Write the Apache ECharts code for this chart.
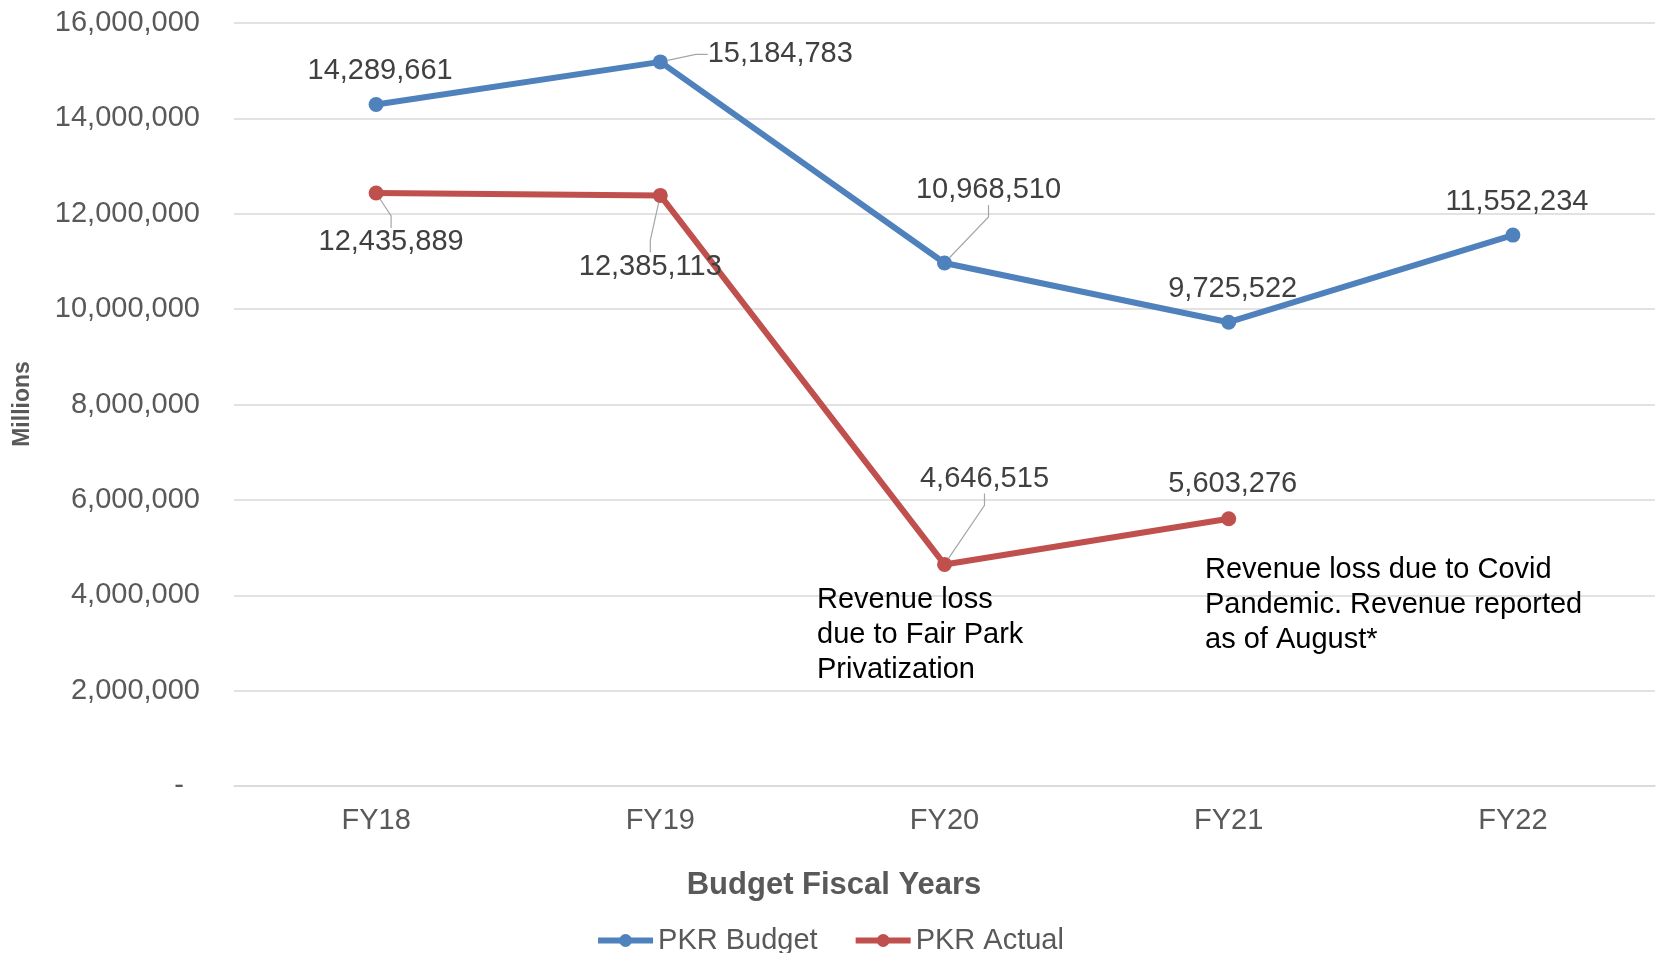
<!DOCTYPE html>
<html><head><meta charset="utf-8">
<script src="https://cdn.jsdelivr.net/npm/echarts@6/dist/echarts.min.js"></script>
<style>html,body{margin:0;padding:0;background:#fff}#c{width:1659px;height:953px}</style>
</head><body><div id="c"></div>
<script>
const categories = ['FY18', 'FY19', 'FY20', 'FY21', 'FY22'];
const budget = [14289661, 15184783, 10968510, 9725522, 11552234];
const actual = [12435889, 12385113, 4646515, 5603276, null];
const seriesNames = ['PKR Budget', 'PKR Actual'];
const yMin = 0, yMax = 16000000, yStep = 2000000;
const note1 = 'Revenue loss\ndue to Fair Park\nPrivatization';
const note2 = 'Revenue loss due to Covid\nPandemic. Revenue reported\nas of August*';
const xTitle = 'Budget Fiscal Years';
const yTitle = 'Millions';

// label placement (styling only)
const budgetShift = [[4, 0], [120, 26], [44, -39], [4, 0], [4, 0]];
const actualShift = [[15, 83], [-10, 105], [40, -52], [4, -1], [0, 0]];
const budgetLeader = [false, true, true, false, false];
const actualLeader = [true, true, true, false, false];

const FONT = '"Liberation Sans", Arial, sans-serif';
const fmt = v => Number(v).toLocaleString('en-US');

function items(vals, leaders) {
  return vals.map((v, i) => ({ value: v, labelLine: { show: leaders[i] } }));
}

const chart = echarts.init(document.getElementById('c'));
const common = {
  type: 'line',
  symbol: 'circle',
  symbolSize: 15,
  lineStyle: { width: 6 },
  z: 5,
  label: {
    show: true, position: 'top', distance: 5.5,
    fontFamily: FONT, fontSize: 29, color: '#404040',
    formatter: p => fmt(p.value), padding: [6, 6]
  },
  labelLine: { show: false, length2: 12, lineStyle: { color: '#A6A6A6', width: 1.2 } },
  emphasis: { disabled: true }
};
chart.setOption({
  animation: false,
  color: ['#4F81BD', '#C0504D'],
  grid: { left: 234, right: 4, top: 23, bottom: 167, containLabel: false, outerBoundsMode: 'none' },
  legend: {
    data: seriesNames, left: 'center', top: 921,
    itemWidth: 55, itemHeight: 16, itemGap: 35,
    lineStyle: { width: 6 },
    textStyle: { fontFamily: FONT, fontSize: 29, color: '#595959' }
  },
  xAxis: {
    type: 'category', data: categories, boundaryGap: true,
    axisLine: { show: true, lineStyle: { color: '#D9D9D9', width: 1.5 } },
    axisTick: { show: false },
    axisLabel: { margin: 20, fontFamily: FONT, fontSize: 29, color: '#595959' }
  },
  yAxis: {
    type: 'value', min: yMin, max: yMax, interval: yStep,
    axisLine: { show: false }, axisTick: { show: false },
    splitLine: { lineStyle: { color: '#D9D9D9', width: 1.5 } },
    axisLabel: {
      margin: 34, fontFamily: FONT, fontSize: 29, color: '#595959',
      formatter: v => v === 0 ? '-  ' : fmt(v)
    }
  },
  series: [
    Object.assign({}, common, {
      name: seriesNames[0], data: items(budget, budgetLeader),
      labelLayout: p => ({ dx: budgetShift[p.dataIndex][0], dy: budgetShift[p.dataIndex][1] })
    }),
    Object.assign({}, common, {
      name: seriesNames[1], data: items(actual, actualLeader),
      labelLayout: p => ({ dx: actualShift[p.dataIndex][0], dy: actualShift[p.dataIndex][1] })
    })
  ],
  graphic: [
    { type: 'text', z: 100, x: 23, y: 404, rotation: Math.PI / 2, style: { text: yTitle, font: 'bold 23px ' + FONT, fill: '#595959', align: 'center', verticalAlign: 'middle' } },
    { type: 'text', z: 100, x: 834, y: 885, style: { text: xTitle, font: 'bold 31px ' + FONT, fill: '#595959', align: 'center', verticalAlign: 'middle' } },
    { type: 'text', z: 100, x: 817, y: 582, style: { text: note1, font: '29px ' + FONT, fill: '#000000', lineHeight: 35, verticalAlign: 'top' } },
    { type: 'text', z: 100, x: 1205, y: 552, style: { text: note2, font: '29px ' + FONT, fill: '#000000', lineHeight: 35, verticalAlign: 'top' } }
  ]
});
</script></body></html>
